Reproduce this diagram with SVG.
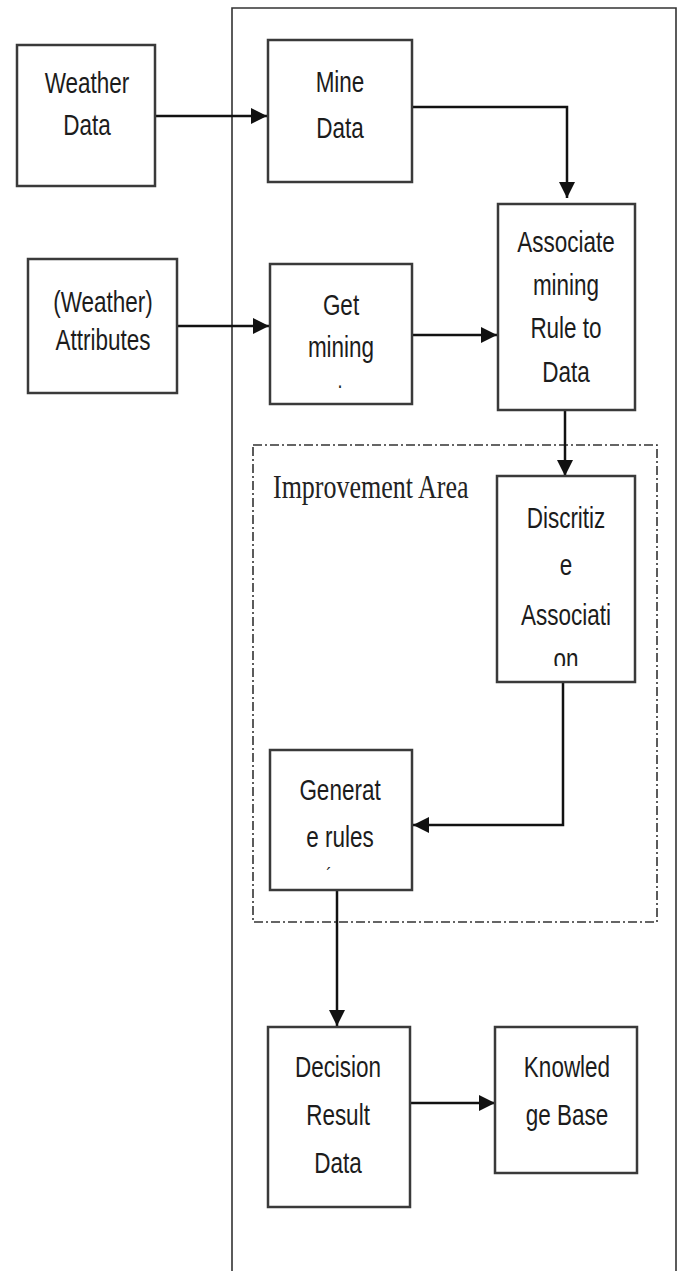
<svg xmlns="http://www.w3.org/2000/svg" width="682" height="1271" viewBox="0 0 682 1271">
<style>
.box{fill:#fff;stroke:#3a3a3a;stroke-width:2.5}
.t{font-family:"Liberation Sans",Arial,sans-serif;font-size:22.5px;fill:#1c1c1c;text-anchor:middle}
.c{fill:none;stroke:#111;stroke-width:2.5}
.frame{fill:none;stroke:#333;stroke-width:1.6}
.area{fill:none;stroke:#333;stroke-width:1.6;stroke-dasharray:9 3 2 3}
</style>
<defs>
<marker id="ah" markerUnits="userSpaceOnUse" markerWidth="17" markerHeight="17" refX="16" refY="8" orient="auto">
<path d="M0,0 L16,8 L0,16 z" fill="#111"/>
</marker>
<clipPath id="clipDisc"><rect x="497" y="476" width="138" height="190"/></clipPath>
</defs>
<g id="frame"><path class="frame" d="M232,1271 V8 H676 V1271"/></g>
<g id="improvement-area">
<rect class="area" x="253" y="445" width="404" height="477"/>
<text transform="translate(273,498) scale(1,1.3)" x="0" y="0" style="font-family:'Liberation Serif','Times New Roman',serif;font-size:26px;fill:#222">Improvement Area</text>
</g>
<g id="connectors">
<path class="c" d="M154,116 H267" marker-end="url(#ah)"/>
<path class="c" d="M412,107 H567 V198" marker-end="url(#ah)"/>
<path class="c" d="M177,326 H269" marker-end="url(#ah)"/>
<path class="c" d="M412,335 H497" marker-end="url(#ah)"/>
<path class="c" d="M565,410 V476" marker-end="url(#ah)"/>
<path class="c" d="M563,682 V825 H413" marker-end="url(#ah)"/>
<path class="c" d="M337,890 V1026" marker-end="url(#ah)"/>
<path class="c" d="M410,1103 H495" marker-end="url(#ah)"/>
</g>
<g id="weather-data">
<rect class="box" x="17" y="45" width="138" height="141"/>
<text class="t" transform="translate(87,93) scale(1,1.3)">Weather</text>
<text class="t" transform="translate(87,135) scale(1,1.3)">Data</text>
</g>
<g id="mine-data">
<rect class="box" x="268" y="40" width="144" height="142"/>
<text class="t" transform="translate(340,92) scale(1,1.3)">Mine</text>
<text class="t" transform="translate(340,138) scale(1,1.3)">Data</text>
</g>
<g id="weather-attributes">
<rect class="box" x="28" y="259" width="149" height="134"/>
<text class="t" transform="translate(103,312) scale(1,1.3)">(Weather)</text>
<text class="t" transform="translate(103,350) scale(1,1.3)">Attributes</text>
</g>
<g id="get-mining">
<rect class="box" x="270" y="264" width="142" height="140"/>
<text class="t" transform="translate(341,315) scale(1,1.3)">Get</text>
<text class="t" transform="translate(341,357) scale(1,1.3)">mining</text>
<text class="t" transform="translate(340,388) scale(1,1.3)" style="font-size:18px">.</text>
</g>
<g id="associate">
<rect class="box" x="498" y="204" width="137" height="206"/>
<text class="t" transform="translate(566,252) scale(1,1.3)">Associate</text>
<text class="t" transform="translate(566,295) scale(1,1.3)">mining</text>
<text class="t" transform="translate(566,338) scale(1,1.3)">Rule to</text>
<text class="t" transform="translate(566,382) scale(1,1.3)">Data</text>
</g>
<g id="discritize">
<rect class="box" x="497" y="476" width="138" height="206"/>
<g clip-path="url(#clipDisc)">
<text class="t" transform="translate(566,528) scale(1,1.3)">Discritiz</text>
<text class="t" transform="translate(566,575) scale(1,1.3)">e</text>
<text class="t" transform="translate(566,625) scale(1,1.3)">Associati</text>
<text class="t" transform="translate(566,669) scale(1,1.3)">on</text>
</g>
</g>
<g id="generate-rules">
<rect class="box" x="270" y="750" width="142" height="140"/>
<text class="t" transform="translate(340,800) scale(1,1.3)">Generat</text>
<text class="t" transform="translate(340,847) scale(1,1.3)">e rules</text>
<text class="t" transform="translate(329,882) scale(1,1.3)" style="font-size:16px">´</text>
</g>
<g id="decision">
<rect class="box" x="268" y="1027" width="142" height="180"/>
<text class="t" transform="translate(338,1077) scale(1,1.3)">Decision</text>
<text class="t" transform="translate(338,1125) scale(1,1.3)">Result</text>
<text class="t" transform="translate(338,1173) scale(1,1.3)">Data</text>
</g>
<g id="knowledge-base">
<rect class="box" x="495" y="1027" width="142" height="146"/>
<text class="t" transform="translate(567,1077) scale(1,1.3)">Knowled</text>
<text class="t" transform="translate(567,1125) scale(1,1.3)">ge Base</text>
</g>
</svg>
